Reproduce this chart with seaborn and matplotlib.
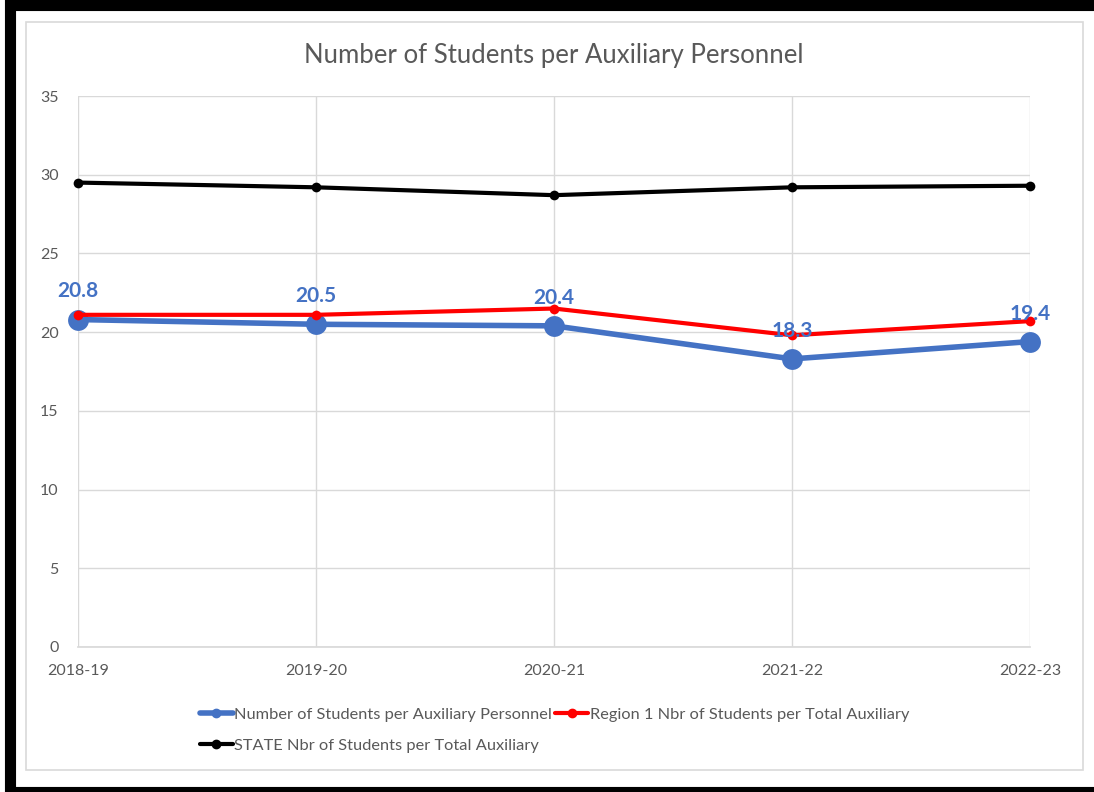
import matplotlib
matplotlib.use("Agg")
import matplotlib.pyplot as plt
from matplotlib.patches import Rectangle
from matplotlib.lines import Line2D
import seaborn as sns
import pandas as pd

years = ["2018-19", "2019-20", "2020-21", "2021-22", "2022-23"]
district = [20.8, 20.5, 20.4, 18.3, 19.4]
region1 = [21.1, 21.1, 21.5, 19.8, 20.7]
state = [29.5, 29.2, 28.7, 29.2, 29.3]
series_names = ["Number of Students per Auxiliary Personnel",
                "Region 1 Nbr of Students per Total Auxiliary",
                "STATE Nbr of Students per Total Auxiliary"]
title = "Number of Students per Auxiliary Personnel"

sns.set_theme(style="white")
plt.rcParams['font.family'] = ['Lato', 'DejaVu Sans']

W, H = 1094, 792
fig = plt.figure(figsize=(W/100, H/100), dpi=100)
ax = fig.add_axes([78/W, 1-647/H, (1030-78)/W, (647-96)/H])

df = pd.DataFrame({"year": years * 3,
                   "value": district + region1 + state,
                   "series": [series_names[0]]*5 + [series_names[1]]*5 + [series_names[2]]*5})

styles = [("#4472C4", 4.0, 15, 2), ("#FF0000", 3.0, 7, 3), ("#000000", 3.0, 7, 4)]
for name, (col, lw, ms, z) in zip(series_names, styles):
    sub = df[df["series"] == name]
    sns.lineplot(data=sub, x="year", y="value", ax=ax, color=col, lw=lw,
                 marker="o", markersize=ms, markeredgewidth=0, sort=False,
                 legend=False, zorder=z, clip_on=False)

for i, v in enumerate(district):
    ax.annotate(f"{v:.1f}", (i, v), xytext=(0, 13), textcoords="offset points",
                ha="center", va="bottom", color="#4472C4", fontsize=15,
                fontweight="bold", zorder=6, annotation_clip=False)

ax.set_xlim(0, 4)
ax.set_ylim(0, 35)
ax.set_yticks(range(0, 36, 5))
ax.set_xlabel("")
ax.set_ylabel("")
ax.grid(True, color="#D9D9D9", lw=1)
for s in ["left", "right", "top"]:
    ax.spines[s].set_visible(False)
ax.spines["bottom"].set_color("#D9D9D9")
ax.tick_params(axis="both", length=0, labelsize=11.5, labelcolor="#595959")
ax.tick_params(axis="x", pad=12)
ax.tick_params(axis="y", pad=14)

fig.text(554/W, 1-55/H, title, ha="center", va="center", fontsize=18.5, color="#595959")

handles = [Line2D([], [], color=c, lw=lw, marker="o", markersize=6) for c, lw, _, _ in styles]
order = [0, 2, 1]
fig.legend([handles[i] for i in order], [series_names[i] for i in order],
           loc="upper left", bbox_to_anchor=(185/W, 1-693/H), ncol=2, frameon=False,
           fontsize=11.8, labelcolor="#595959", handlelength=2.0, handletextpad=0.1,
           columnspacing=0.2, labelspacing=1.0)

# outer black frame (open on the right, cut by the image edge) and inner gray border
fig.patches.append(Rectangle((10/W, 0), (W+20)/W, 1-5/H, transform=fig.transFigure,
                             fill=False, edgecolor="black", lw=8, zorder=10))
fig.patches.append(Rectangle((26/W, 1-770/H), (1083-26)/W, (770-22)/H, transform=fig.transFigure,
                             fill=False, edgecolor="#D9D9D9", lw=1.2, zorder=10))

fig.savefig("out.png", dpi=100)
